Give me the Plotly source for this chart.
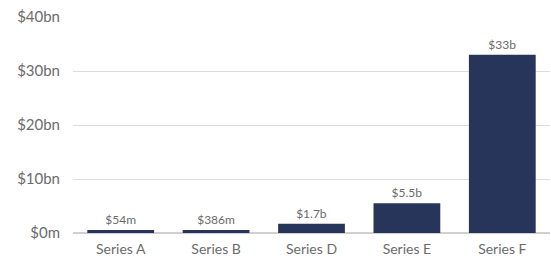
import plotly.graph_objects as go

categories = ["Series A", "Series B", "Series D", "Series E", "Series F"]
values_bn = [0.054, 0.386, 1.7, 5.5, 33.0]
value_labels = ["$54m", "$386m", "$1.7b", "$5.5b", "$33b"]
y_tick_vals = [0, 10, 20, 30, 40]
y_tick_text = ["$0m", "$10bn", "$20bn", "$30bn", "$40bn"]

# bars below this are drawn at a minimum visible height (as in the reference)
MIN_VISIBLE_BN = 0.55
display_vals = [max(v, MIN_VISIBLE_BN) for v in values_bn]

fig = go.Figure(go.Bar(
    x=categories,
    y=display_vals,
    text=value_labels,
    textposition="outside",
    textfont=dict(size=12, color="#6b6b6b", family="Lato"),
    marker=dict(color="#28355A", line=dict(width=0)),
    cliponaxis=False,
    hoverinfo="skip",
))

fig.update_layout(
    width=551, height=258,
    margin=dict(l=73, r=1, t=17, b=25),
    paper_bgcolor="white", plot_bgcolor="white",
    bargap=0.3,
    font=dict(family="Lato", color="#6b6b6b"),
    showlegend=False,
)
fig.update_xaxes(
    tickfont=dict(size=14, color="#6b6b6b"),
    showgrid=False, showline=False, ticks="",
    automargin=False, ticklabelstandoff=6,
)
fig.update_yaxes(
    range=[0, 40],
    tickvals=y_tick_vals, ticktext=y_tick_text,
    tickfont=dict(size=15, color="#6b6b6b"),
    showgrid=True, gridcolor="#dddddd", gridwidth=1,
    zeroline=True, zerolinecolor="#d0d0d0", zerolinewidth=2,
    showline=False, ticks="", ticklabelstandoff=12,
    automargin=False,
)

fig.write_html(
    "out.html",
    config={"displayModeBar": False},
    post_script="document.body.style.margin='0';document.body.style.overflow='hidden';",
)
